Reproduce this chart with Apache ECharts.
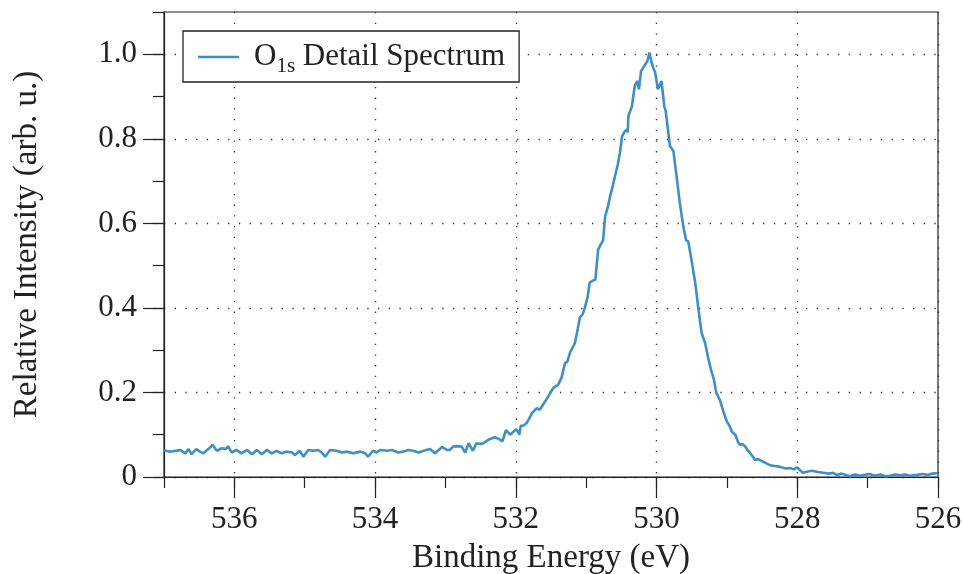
<!DOCTYPE html>
<html>
<head>
<meta charset="utf-8">
<script src="https://cdn.jsdelivr.net/npm/echarts@6/dist/echarts.min.js"></script>
<style>html,body{margin:0;padding:0;background:#fff}#c{width:963px;height:574px}</style>
</head>
<body>
<div id="c"></div>
<script>
// Binding energy (eV) and relative intensity
var energy = [537.00,536.93,536.87,536.80,536.77,536.70,536.65,536.61,536.54,536.49,536.44,536.37,536.31,536.25,536.18,536.12,536.09,536.04,535.97,535.90,535.82,535.75,535.68,535.61,535.54,535.47,535.40,535.33,535.26,535.18,535.14,535.07,535.02,534.95,534.88,534.81,534.76,534.71,534.64,534.55,534.47,534.40,534.31,534.21,534.14,534.10,534.03,533.98,533.93,533.83,533.76,533.67,533.60,533.53,533.46,533.38,533.31,533.22,533.15,533.08,533.05,532.98,532.94,532.89,532.84,532.77,532.72,532.67,532.61,532.56,532.51,532.46,532.39,532.30,532.24,532.19,532.14,532.08,532.03,531.99,531.95,531.93,531.89,531.85,531.81,531.77,531.73,531.70,531.66,531.61,531.57,531.52,531.47,531.44,531.40,531.35,531.30,531.27,531.23,531.16,531.12,531.09,531.05,531.02,530.98,530.95,530.90,530.87,530.83,530.80,530.76,530.73,530.69,530.66,530.62,530.59,530.55,530.52,530.49,530.45,530.42,530.41,530.40,530.35,530.31,530.27,530.25,530.22,530.16,530.13,530.10,530.07,530.04,530.02,529.98,529.93,529.89,529.87,529.84,529.81,529.76,529.71,529.67,529.62,529.58,529.55,529.50,529.45,529.41,529.36,529.31,529.26,529.22,529.19,529.15,529.10,529.05,529.00,528.96,528.93,528.88,528.84,528.81,528.78,528.74,528.70,528.67,528.63,528.60,528.56,528.53,528.46,528.39,528.32,528.24,528.17,528.10,528.05,528.00,527.96,527.92,527.85,527.79,527.71,527.63,527.55,527.49,527.44,527.37,527.30,527.25,527.18,527.11,527.04,526.97,526.90,526.82,526.75,526.68,526.61,526.54,526.47,526.40,526.30,526.22,526.15,526.08,526.02,526.00];
var intensity = [0.064,0.060,0.061,0.063,0.064,0.056,0.066,0.054,0.066,0.060,0.056,0.066,0.076,0.062,0.068,0.066,0.073,0.058,0.064,0.056,0.064,0.054,0.064,0.054,0.064,0.056,0.062,0.056,0.060,0.058,0.052,0.062,0.048,0.064,0.062,0.064,0.058,0.048,0.064,0.062,0.058,0.060,0.056,0.060,0.056,0.048,0.062,0.058,0.064,0.062,0.064,0.058,0.060,0.064,0.062,0.058,0.062,0.066,0.056,0.066,0.071,0.064,0.064,0.072,0.073,0.072,0.058,0.080,0.062,0.080,0.078,0.080,0.088,0.094,0.090,0.084,0.111,0.100,0.108,0.113,0.100,0.121,0.122,0.127,0.138,0.151,0.158,0.163,0.159,0.172,0.182,0.196,0.210,0.214,0.218,0.235,0.270,0.272,0.294,0.317,0.350,0.377,0.385,0.400,0.425,0.460,0.465,0.467,0.538,0.548,0.560,0.617,0.640,0.664,0.690,0.712,0.740,0.767,0.806,0.818,0.822,0.815,0.854,0.877,0.925,0.937,0.917,0.960,0.976,0.984,1.004,0.980,0.965,0.957,0.917,0.937,0.877,0.866,0.825,0.783,0.771,0.704,0.649,0.593,0.560,0.558,0.510,0.459,0.404,0.341,0.317,0.277,0.250,0.234,0.199,0.182,0.155,0.131,0.120,0.107,0.100,0.082,0.076,0.078,0.072,0.062,0.057,0.048,0.040,0.042,0.040,0.034,0.028,0.026,0.024,0.020,0.021,0.018,0.023,0.016,0.010,0.013,0.015,0.012,0.010,0.008,0.010,0.005,0.008,0.004,0.002,0.006,0.003,0.005,0.007,0.003,0.006,0.002,0.003,0.006,0.004,0.006,0.003,0.005,0.007,0.005,0.008,0.009,0.009];
var xTicks = [526, 528, 530, 532, 534, 536];
var yTicks = [0, 0.2, 0.4, 0.6, 0.8, 1.0];
var seriesName = 'O1s Detail Spectrum';

var FONT = 'Liberation Serif';
var INK = '#222';
var LINE = '#3f8fc7';
var dotted = {type: [1.3, 9.4], color: '#333', width: 1.3};

var pairs = energy.map(function (e, i) { return [e, intensity[i]]; });

var chart = echarts.init(document.getElementById('c'), null, {renderer: 'canvas'});
chart.setOption({
  animation: false,
  backgroundColor: '#fff',
  grid: {left: 164, right: 25, top: 12, bottom: 97, show: true, borderColor: INK, borderWidth: 1.2,
    backgroundColor: 'transparent', containLabel: false, outerBoundsMode: 'none'},
  legend: {
    left: 183, top: 31, padding: [6, 14, 5, 15],
    itemWidth: 41, itemHeight: 14,
    borderColor: INK, borderWidth: 1.3, borderRadius: 0, backgroundColor: '#fff',
    data: [{name: seriesName, icon: 'path://M0,0L41,0L41,2.6L0,2.6Z'}],
    formatter: function () { return '{a|O}{b|1s}{c| Detail Spectrum}'; },
    textStyle: {
      fontFamily: FONT, color: INK, fontSize: 31, lineHeight: 40,
      rich: {
        a: {fontFamily: FONT, fontSize: 31, color: INK, lineHeight: 40, padding: [0, 0, 0, 10]},
        b: {fontFamily: FONT, fontSize: 21, color: INK, lineHeight: 24, verticalAlign: 'bottom'},
        c: {fontFamily: FONT, fontSize: 31, color: INK, lineHeight: 40}
      }
    }
  },
  xAxis: [
    {
      type: 'value', min: 526, max: 537, interval: 2, inverse: true, position: 'bottom',
      axisLine: {show: true, onZero: false, lineStyle: {color: INK, width: 1.2}},
      axisTick: {show: true, inside: false, length: 21, customValues: xTicks, lineStyle: {color: INK, width: 1.2}},
      axisLabel: {customValues: xTicks, margin: 27, fontFamily: FONT, fontSize: 31, color: INK},
      splitLine: {show: true, lineStyle: dotted},
      name: 'Binding Energy (eV)', nameLocation: 'middle', nameGap: 65,
      nameTextStyle: {fontFamily: FONT, fontSize: 33, color: INK}
    },
    {
      type: 'value', min: 526, max: 537, interval: 1, inverse: true, position: 'bottom',
      axisLine: {show: false},
      axisTick: {show: true, inside: false, length: 11, lineStyle: {color: INK, width: 1.2}},
      axisLabel: {show: false},
      splitLine: {show: false}
    }
  ],
  yAxis: [
    {
      type: 'value', min: 0, max: 1.1, interval: 0.2, position: 'left',
      axisLine: {show: true, onZero: false, lineStyle: {color: INK, width: 1.2}},
      axisTick: {show: true, inside: false, length: 21, customValues: yTicks, lineStyle: {color: INK, width: 1.2}},
      axisLabel: {customValues: yTicks, margin: 27, fontFamily: FONT, fontSize: 31, color: INK,
        formatter: function (v) { return v === 0 ? '0' : v.toFixed(1); }},
      splitLine: {show: true, lineStyle: dotted},
      name: 'Relative Intensity (arb. u.)', nameLocation: 'middle', nameGap: 120, nameRotate: 90,
      nameTextStyle: {fontFamily: FONT, fontSize: 33, color: INK}
    },
    {
      type: 'value', min: 0, max: 1.1, interval: 0.1, position: 'left',
      axisLine: {show: false},
      axisTick: {show: true, inside: false, length: 11, lineStyle: {color: INK, width: 1.2}},
      axisLabel: {show: false},
      splitLine: {show: false}
    }
  ],
  series: [{
    name: seriesName, type: 'line', xAxisIndex: 0, yAxisIndex: 0,
    data: pairs, showSymbol: false, symbol: 'none',
    lineStyle: {color: LINE, width: 2.6}, itemStyle: {color: LINE}
  }]
});
</script>
</body>
</html>
